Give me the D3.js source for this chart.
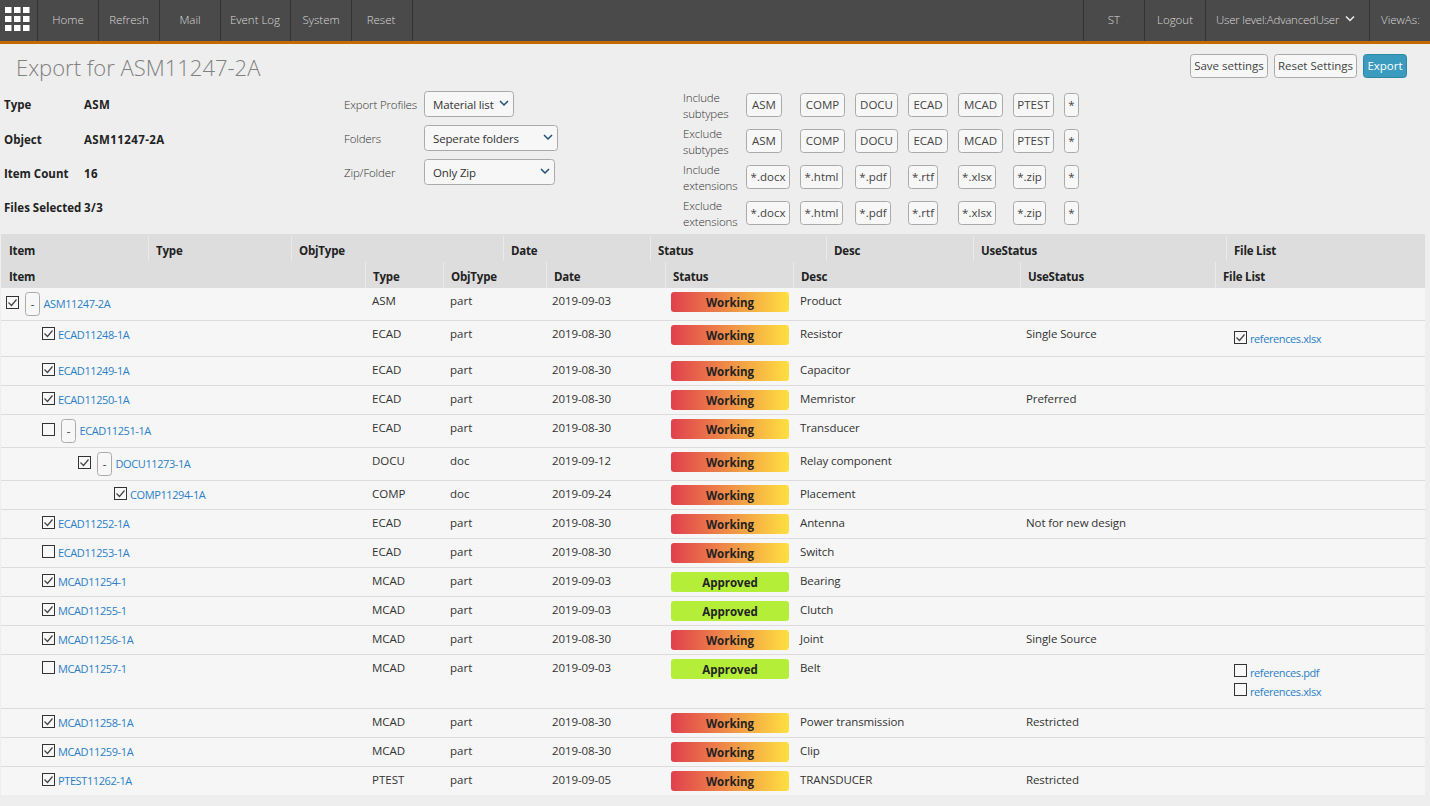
<!DOCTYPE html>
<html>
<head>
<meta charset="utf-8">
<title>Export for ASM11247-2A</title>
<script src="https://cdn.jsdelivr.net/npm/d3@7"></script>
<style>
html, body { margin: 0; padding: 0; background: #eeeeee; overflow: hidden; }
text { font-family: "Open Sans", sans-serif; font-size: 11.5px; fill: #333; }
.nav { fill: #d8d8d8; font-weight: 300; }
.bold { font-weight: 700; fill: #222; }
.head { letter-spacing: -0.2px; }
.lbl { fill: #333; font-weight: 300; letter-spacing: -0.15px; }
.link { fill: #2a80c8; font-size: 11px; letter-spacing: -0.4px; }
</style>
</head>
<body>
<svg id="page" width="1430" height="806"></svg>
<script>
'use strict';

// nav
var navLeft = ["Home", "Refresh", "Mail", "Event Log", "System", "Reset"];
var navRight = ["ST", "Logout", "User level:AdvancedUser", "ViewAs:"];

// info block
var infoLabels = ["Type", "Object", "Item Count", "Files Selected"];
var infoValues = ["ASM", "ASM11247-2A", "16", "3/3"];
var selectLabels = ["Export Profiles", "Folders", "Zip/Folder"];
var selectValues = ["Material list", "Seperate folders", "Only Zip"];

// filter buttons
var filterLabels = [["Include", "subtypes"], ["Exclude", "subtypes"], ["Include", "extensions"], ["Exclude", "extensions"]];
var subtypes = ["ASM", "COMP", "DOCU", "ECAD", "MCAD", "PTEST", "*"];
var extensions = ["*.docx", "*.html", "*.pdf", "*.rtf", "*.xlsx", "*.zip", "*"];

// table
var upperColumns = ["Item", "Type", "ObjType", "Date", "Status", "Desc", "UseStatus", "File List"];
var columns = ["Item", "Type", "ObjType", "Date", "Status", "Desc", "UseStatus", "File List"];
var items = ["ASM11247-2A", "ECAD11248-1A", "ECAD11249-1A", "ECAD11250-1A", "ECAD11251-1A", "DOCU11273-1A", "COMP11294-1A", "ECAD11252-1A", "ECAD11253-1A", "MCAD11254-1", "MCAD11255-1", "MCAD11256-1A", "MCAD11257-1", "MCAD11258-1A", "MCAD11259-1A", "PTEST11262-1A"];
var levels = [0, 1, 1, 1, 1, 2, 3, 1, 1, 1, 1, 1, 1, 1, 1, 1];
var checked = [1, 1, 1, 1, 0, 1, 1, 1, 0, 1, 1, 1, 0, 1, 1, 1];
var expandable = [1, 0, 0, 0, 1, 1, 0, 0, 0, 0, 0, 0, 0, 0, 0, 0];
var types = ["ASM", "ECAD", "ECAD", "ECAD", "ECAD", "DOCU", "COMP", "ECAD", "ECAD", "MCAD", "MCAD", "MCAD", "MCAD", "MCAD", "MCAD", "PTEST"];
var objTypes = ["part", "part", "part", "part", "part", "doc", "doc", "part", "part", "part", "part", "part", "part", "part", "part", "part"];
var dates = ["2019-09-03", "2019-08-30", "2019-08-30", "2019-08-30", "2019-08-30", "2019-09-12", "2019-09-24", "2019-08-30", "2019-08-30", "2019-09-03", "2019-09-03", "2019-08-30", "2019-09-03", "2019-08-30", "2019-08-30", "2019-09-05"];
var statuses = ["Working", "Working", "Working", "Working", "Working", "Working", "Working", "Working", "Working", "Approved", "Approved", "Working", "Approved", "Working", "Working", "Working"];
var descs = ["Product", "Resistor", "Capacitor", "Memristor", "Transducer", "Relay component", "Placement", "Antenna", "Switch", "Bearing", "Clutch", "Joint", "Belt", "Power transmission", "Clip", "TRANSDUCER"];
var useStatus = ["", "Single Source", "", "Preferred", "", "", "", "Not for new design", "", "", "", "Single Source", "", "Restricted", "", "Restricted"];
var fileLists = [[], ["references.xlsx"], [], [], [], [], [], [], [], [], [], [], ["references.pdf", "references.xlsx"], [], [], []];
var fileChecked = [[], [1], [], [], [], [], [], [], [], [], [], [], [0, 0], [], [], []];

var svg = d3.select("#page");

function rect(parent, x, y, w, h, fill, stroke, r) {
    return parent.append("rect").attr("x", x).attr("y", y).attr("width", w).attr("height", h)
        .attr("fill", fill).attr("stroke", stroke || "none").attr("rx", r || 0);
}
function label(parent, x, y, str, cls, anchor) {
    return parent.append("text").attr("x", x).attr("y", y).attr("class", cls || null)
        .attr("text-anchor", anchor || "start").text(str);
}
function vline(parent, x, y0, y1, color) {
    parent.append("line").attr("x1", x).attr("x2", x).attr("y1", y0).attr("y2", y1).attr("stroke", color);
}
function chevron(parent, x, y, color) {
    parent.append("path").attr("d", "M" + (x - 4) + "," + (y - 2) + "L" + x + "," + (y + 2) + "L" + (x + 4) + "," + (y - 2))
        .attr("fill", "none").attr("stroke", color).attr("stroke-width", 1.5);
}
function checkbox(parent, x, y, on) {
    rect(parent, x + 0.5, y + 0.5, 12, 12, "#f8f8f8", "#333");
    if (on) {
        parent.append("path").attr("d", "M" + (x + 2.5) + "," + (y + 6.5) + "l3,3l5,-6")
            .attr("fill", "none").attr("stroke", "#444").attr("stroke-width", 1.2);
    }
}
function button(parent, x, y, w, str) {
    rect(parent, x + 0.5, y + 0.5, w, 23, "#f7f7f7", "#aaa", 3);
    label(parent, x + w / 2 + 0.5, y + 16, str, null, "middle").style("fill", "#444");
}

// ---- top bar
var nav = svg.append("g");
rect(nav, 0, 0, 1430, 41, "#4a4a4a");
rect(nav, 0, 41, 1430, 3, "#c46a00");
var gridStep = d3.scalePoint().domain([0, 1, 2]).range([5, 23]);
[0, 1, 2].forEach(function (row) {
    [0, 1, 2].forEach(function (col) {
        rect(nav, gridStep(col), gridStep(row) + 2, 6.5, 6, "#fff");
    });
});
[37, 98, 159, 220, 290, 351, 412, 1083, 1144, 1205, 1369].forEach(function (x) {
    vline(nav, x + 0.5, 0, 41, "#333");
});
var navLeftX = d3.scaleOrdinal().domain(navLeft).range([68, 129, 190, 255, 321, 381]);
navLeft.forEach(function (d) { label(nav, navLeftX(d), 24, d, "nav", "middle"); });
var navRightX = d3.scaleOrdinal().domain(navRight).range([1114, 1175, 1216, 1381]);
navRight.forEach(function (d, i) {
    label(nav, navRightX(d), 24, d, "nav", (i < 2) ? "middle" : "start").style("letter-spacing", i == 2 ? "-0.22px" : null);
});
chevron(nav, 1350, 18.5, "#eee");

// ---- title and actions
label(svg, 16, 76, "Export for ASM11247-2A").style("font-size", "22px").style("font-weight", 300).style("fill", "#808080");
button(svg, 1190, 54, 77, "Save settings");
button(svg, 1274, 54, 82, "Reset Settings");
rect(svg, 1363.5, 54.5, 43, 23, "#3a9bbf", "#2e86a6", 3);
label(svg, 1385, 70, "Export", null, "middle").style("fill", "#fff");

// ---- info
var infoY = d3.scalePoint().domain(infoLabels).range([109.4, 212.4]);
infoLabels.forEach(function (d, i) {
    label(svg, 4, infoY(d), d, "bold");
    label(svg, 84, infoY(d), infoValues[i], "bold").style("letter-spacing", "0.4px");
});

// ---- selects
var selectY = d3.scalePoint().domain(selectLabels).range([91.5, 159.5]);
var selectW = d3.scaleOrdinal().domain(selectLabels).range([89, 133, 130]);
selectLabels.forEach(function (d, i) {
    var y = selectY(d);
    label(svg, 344, y + 17.5, d, "lbl");
    rect(svg, 424.5, y, selectW(d), 25, "#f7f7f7", "#aaa", 3);
    label(svg, 433, y + 17.5, selectValues[i]).style("letter-spacing", "-0.15px");
    chevron(svg, 424.5 + selectW(d) - 9.5, y + 11.5, "#1f4e79");
});

// ---- filter buttons
var filterY = d3.scaleBand().domain(d3.range(4)).range([93, 237]);
var filterX = d3.scaleOrdinal().domain(d3.range(7)).range([746, 800, 855, 908, 958, 1013, 1064]);
var subtypeW = d3.scaleOrdinal().domain(subtypes).range([35, 44, 42, 39, 44, 40, 14]);
var extensionW = d3.scaleOrdinal().domain(extensions).range([43, 42, 35, 29, 37, 32, 14]);
filterLabels.forEach(function (lines, row) {
    var y = filterY(row);
    label(svg, 683, y + 9, lines[0], "lbl");
    label(svg, 683, y + 25, lines[1], "lbl");
    (row < 2 ? subtypes : extensions).forEach(function (d, i) {
        button(svg, filterX(i), y, (row < 2 ? subtypeW : extensionW)(d), d);
    });
});

// ---- table headers
var table = svg.append("g");
rect(table, 1, 234, 1424, 54, "#dddddd");
var upperX = d3.scaleOrdinal().domain(upperColumns).range([9, 156, 299, 511, 658, 834, 981, 1234]);
upperColumns.forEach(function (d, i) {
    label(table, upperX(d), 255, d, "bold head");
    if (i > 0) vline(table, upperX(d) - 7.5, 236, 261, "#eaeaea");
});
var colX = d3.scaleOrdinal().domain(columns).range([9, 373, 451, 554, 673, 801, 1028, 1223]);
columns.forEach(function (d, i) {
    label(table, colX(d), 281, d, "bold head");
    if (i > 0) vline(table, colX(d) - 7.5, 262, 288, "#eaeaea");
});

// ---- table rows
function rowHeight(i) {
    if (fileLists[i].length > 1) return 54;
    if (fileLists[i].length == 1) return 36;
    return expandable[i] ? 33 : 29;
}
var rowTops = [288].concat(Array.from(d3.cumsum(items, function (d, i) { return rowHeight(i); }), function (v) { return 288 + v; }));

var defs = svg.append("defs");
var grad = defs.append("linearGradient").attr("id", "working");
grad.append("stop").attr("offset", "0").attr("stop-color", "#e0404e");
grad.append("stop").attr("offset", "1").attr("stop-color", "#ffe040");

var levelX = d3.scaleLinear().domain([0, 3]).range([6, 114]);

var rows = table.selectAll("g.row").data(items).enter().append("g").attr("class", "row")
    .attr("transform", function (d, i) { return "translate(0," + rowTops[i] + ")"; });

rows.each(function (d, i) {
    var g = d3.select(this);
    var last = i == items.length - 1;
    var h = last ? rowHeight(i) - 1 : rowHeight(i);
    rect(g, 1, 0, 1424, h, "#f6f6f6");
    if (!last) {
        g.append("line").attr("x1", 1).attr("x2", 1425).attr("y1", h - 0.5).attr("y2", h - 0.5).attr("stroke", "#dcdcdc");
    }
    var x = levelX(levels[i]);
    if (expandable[i]) {
        checkbox(g, x, 8, checked[i]);
        rect(g, x + 19.5, 4.5, 14, 23, "#f7f7f7", "#aaa", 3);
        label(g, x + 26.5, 20, "-", null, "middle");
        label(g, x + 37.5, 20, d, "link");
    } else {
        checkbox(g, x, 6, checked[i]);
        label(g, x + 16, 18, d, "link");
    }
    label(g, colX("Type") - 1, 17, types[i]);
    label(g, colX("ObjType") - 1, 17, objTypes[i]);
    label(g, colX("Date") - 2, 17, dates[i]).style("letter-spacing", "-0.1px");
    rect(g, 671, 4, 118, 20, statuses[i] == "Working" ? "url(#working)" : "#b5ee38", null, 3);
    label(g, 730, 19, statuses[i], "bold", "middle");
    label(g, colX("Desc") - 1, 17, descs[i]).style("letter-spacing", "-0.1px");
    label(g, colX("UseStatus") - 2, 17, useStatus[i]).style("letter-spacing", "-0.1px");
    var twoFiles = fileLists[i].length > 1;
    var fileY = d3.scaleLinear().domain([0, 1]).range(twoFiles ? [9, 28] : [10, 29]);
    fileLists[i].forEach(function (f, k) {
        checkbox(g, 1234, fileY(k), fileChecked[i][k]);
        label(g, 1250, fileY(k) + (twoFiles ? 13 : 12), f, "link");
    });
});
</script>
</body>
</html>
